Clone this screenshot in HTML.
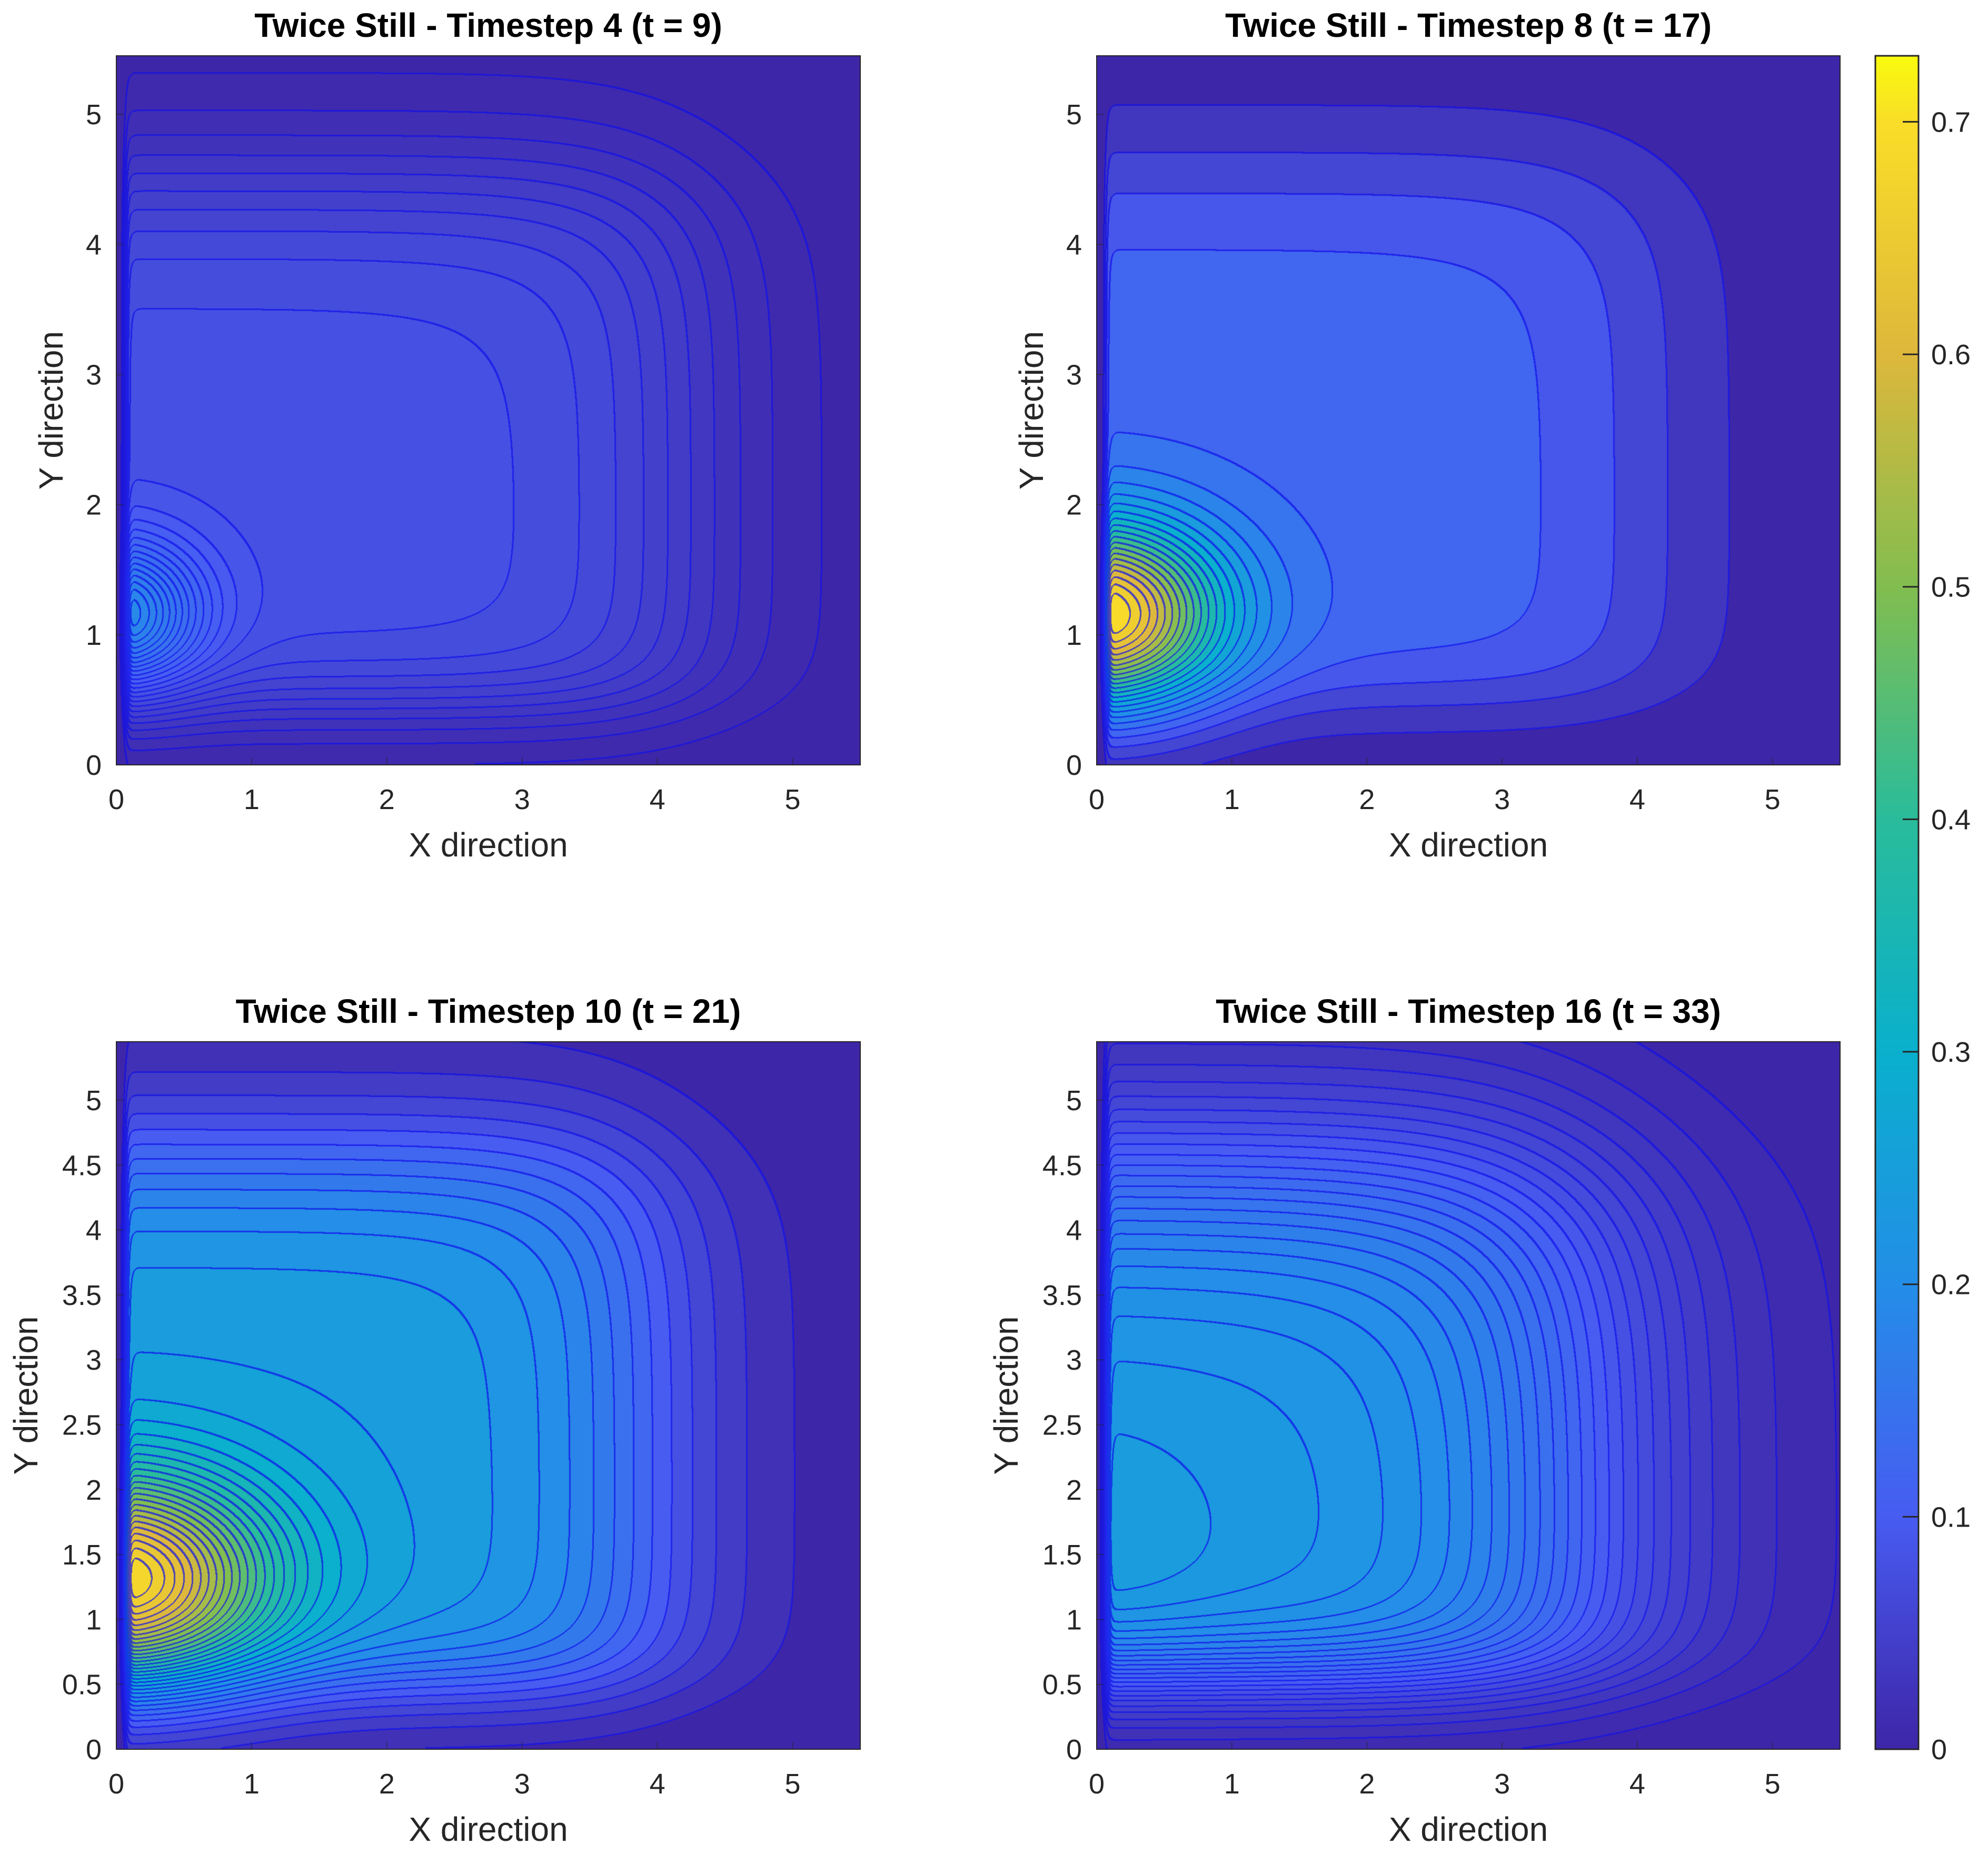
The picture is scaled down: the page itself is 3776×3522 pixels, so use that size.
<!DOCTYPE html>
<html><head><meta charset="utf-8">
<style>
html,body{margin:0;padding:0;background:#fff;}
#root{position:relative;width:3776px;height:3522px;overflow:hidden;background:#fff;font-family:"Liberation Sans",Arial,sans-serif;}
canvas{position:absolute;}
svg{position:absolute;left:0;top:0;}
</style></head>
<body>
<div id="root">
<canvas id="c0"></canvas>
<canvas id="c1"></canvas>
<canvas id="c2"></canvas>
<canvas id="c3"></canvas>
<canvas id="cb"></canvas>
<svg id="ov" width="3776" height="3522"></svg>
</div>
<script>
// ---- data ----
const panelTitles = ["Twice Still - Timestep 4 (t = 9)","Twice Still - Timestep 8 (t = 17)","Twice Still - Timestep 10 (t = 21)","Twice Still - Timestep 16 (t = 33)"];
const peakAmp   = [0.12, 0.60, 0.45, 0.012];
const peakY     = [1.15, 1.15, 1.30, 1.60];
const peakSx    = [0.6, 0.9, 1.1, 0.8];
const peakSy    = [0.55, 0.7, 0.8, 0.8];
const plateauAmp  = [0.085, 0.14, 0.26, 0.24];
const plateauXEnd = [4.2, 4.1, 3.9, 3.6];
const plateauYEnd = [4.5, 4.6, 4.6, 4.5];
const plateauW    = [0.45, 0.45, 0.45, 0.6];
const plateauYb   = [0.45, 0.5, 0.5, 0.55];
const levelStep   = [0.008, 0.03, 0.02, 0.01];
const xTicks = [0,1,2,3,4,5];
const yTicksTop = [0,1,2,3,4,5];
const yTicksBottom = [0,0.5,1,1.5,2,2.5,3,3.5,4,4.5,5];
const cbTicks = [0,0.1,0.2,0.3,0.4,0.5,0.6,0.7];
const cbMax = 0.7284;
const cmapPos = [0,0.1,0.2,0.3,0.4,0.5,0.6,0.7,0.7284];
const cmapR = [62,72,36,10,42,130,222,250,249];
const cmapG = [38,92,142,176,188,190,184,222,251];
const cmapB = [168,242,232,205,155,80,60,40,14];

// ---- layout ----
const xMax=5.5, yMax=5.45;
const panels=[{x:221,y:106,w:1413,h:1347},{x:2083,y:106,w:1412,h:1347},{x:221,y:1979,w:1413,h:1344},{x:2083,y:1979,w:1412,h:1344}];
const cbBox={x:3562,y:106,w:82,h:3217};

function cmap(v){
  if(v<=cmapPos[0])return [cmapR[0],cmapG[0],cmapB[0]];
  for(let i=1;i<cmapPos.length;i++){
    if(v<=cmapPos[i]){const t=(v-cmapPos[i-1])/(cmapPos[i]-cmapPos[i-1]);
      return [cmapR[i-1]+t*(cmapR[i]-cmapR[i-1]),cmapG[i-1]+t*(cmapG[i]-cmapG[i-1]),cmapB[i-1]+t*(cmapB[i]-cmapB[i-1])];}
  }
  const n=cmapPos.length-1;return [cmapR[n],cmapG[n],cmapB[n]];
}
const sig=z=>1/(1+Math.exp(-z));
function field(k,x,y){
  const ramp=sig((x-0.07)/0.012);
  const pk=peakAmp[k]*Math.exp(-((x*x)/(peakSx[k]*peakSx[k])+((y-peakY[k])*(y-peakY[k]))/(peakSy[k]*peakSy[k])));
  const w=plateauW[k];
  const pl=plateauAmp[k]*sig((plateauXEnd[k]-x)/w)*sig((plateauYEnd[k]-y)/(w*0.8))*sig((y-plateauYb[k])/0.2);
  return ramp*(pk+pl);
}
panels.forEach((p,k)=>{
  const c=document.getElementById('c'+k);
  c.width=p.w;c.height=p.h;c.style.left=p.x+'px';c.style.top=p.y+'px';
  const ctx=c.getContext('2d');const img=ctx.createImageData(p.w,p.h);const d=img.data;
  const W=p.w,H=p.h;const idx=new Int16Array(W*H);const st=levelStep[k];
  for(let j=0;j<H;j++){const y=(H-j)/H*yMax;
    for(let i=0;i<W;i++){const x=i/W*xMax;idx[j*W+i]=Math.floor(field(k,x,y)/st);}}
  for(let j=0;j<H;j++)for(let i=0;i<W;i++){
    const q=j*W+i,v=idx[q];const col=cmap(v*st);
    let line=false,nb=0;
    for(let s=1;s<=3&&!line;s++){
      if(i+s<W&&idx[q+s]!==v){line=true;nb=idx[q+s];}
      else if(j+s<H&&idx[q+s*W]!==v){line=true;nb=idx[q+s*W];}
    }
    if(line&&v===0&&nb===0)line=false;
    let r=col[0],g=col[1],b=col[2];
    if(line){r=r*0.3+15*0.7;g=g*0.3+15*0.7;b=b*0.3+235*0.7;}
    const o=q*4;d[o]=r;d[o+1]=g;d[o+2]=b;d[o+3]=255;}
  ctx.putImageData(img,0,0);
});
// colorbar
(function(){const c=document.getElementById('cb');c.width=cbBox.w;c.height=cbBox.h;c.style.left=cbBox.x+'px';c.style.top=cbBox.y+'px';
 const ctx=c.getContext('2d');for(let j=0;j<cbBox.h;j++){const v=(cbBox.h-j)/cbBox.h*cbMax;const col=cmap(v);
 ctx.fillStyle=`rgb(${col[0]|0},${col[1]|0},${col[2]|0})`;ctx.fillRect(0,j,cbBox.w,1);}})();

// overlay
const NS='http://www.w3.org/2000/svg';const ov=document.getElementById('ov');
function el(tag,attrs,txt){const e=document.createElementNS(NS,tag);for(const a in attrs)e.setAttribute(a,attrs[a]);if(txt!==undefined)e.textContent=txt;ov.appendChild(e);return e;}
panels.forEach((p,k)=>{
  const sx=v=>p.x+v/xMax*p.w, sy=v=>p.y+p.h-v/yMax*p.h;
  const box=el('rect',{x:p.x,y:p.y,width:p.w,height:p.h,fill:'none',stroke:'#262626','stroke-width':2});
  
  
  const t=el('text',{x:p.x+p.w/2,y:p.y-36,'text-anchor':'middle','font-size':64,'font-weight':'bold',fill:'#000'},panelTitles[k]);
  
  
  xTicks.forEach(v=>{
    const tx=el('text',{x:sx(v),y:p.y+p.h+84,'text-anchor':'middle','font-size':54,fill:'#262626'},String(v));
    
    
    el('line',{x1:sx(v),x2:sx(v),y1:p.y+p.h,y2:p.y+p.h-14,stroke:'#262626','stroke-width':2,'stroke-opacity':0.5});
  });
  const yt=k<2?yTicksTop:yTicksBottom;
  yt.forEach(v=>{
    const ty=el('text',{x:p.x-28,y:sy(v)+19,'text-anchor':'end','font-size':54,fill:'#262626'},String(v));
    
    
    el('line',{x1:p.x,x2:p.x+14,y1:sy(v),y2:sy(v),stroke:'#262626','stroke-width':2,'stroke-opacity':0.5});
  });
  const xl=el('text',{x:p.x+p.w/2,y:p.y+p.h+174,'text-anchor':'middle','font-size':64,fill:'#262626'},'X direction');
  
  
  const yx=k<2?p.x-102:p.x-150, yy=p.y+p.h/2;
  const yl=el('text',{x:yx,y:yy,'text-anchor':'middle','font-size':64,fill:'#262626',transform:`rotate(-90 ${yx} ${yy})`},'Y direction');
  
  
});
const cbf=el('rect',{x:cbBox.x,y:cbBox.y,width:cbBox.w,height:cbBox.h,fill:'none',stroke:'#262626','stroke-width':3});


cbTicks.forEach(v=>{const y=cbBox.y+cbBox.h-v/cbMax*cbBox.h;
  el('line',{x1:cbBox.x+cbBox.w-30,x2:cbBox.x+cbBox.w,y1:y,y2:y,stroke:'#262626','stroke-width':3});
  const tl=el('text',{x:cbBox.x+cbBox.w+24,y:y+19,'font-size':54,fill:'#262626'},String(v));
  
  
});
</script>
</body></html>
